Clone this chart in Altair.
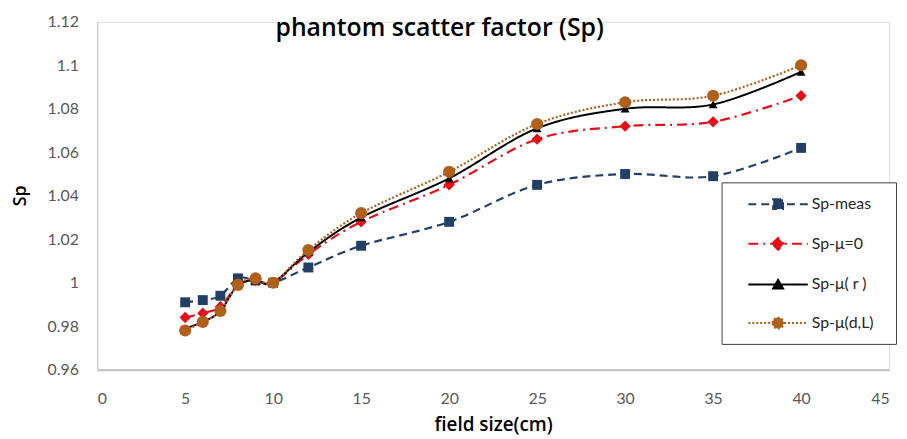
import altair as alt
import pandas as pd

# ---- data ----
field_size = [5, 6, 7, 8, 9, 10, 12, 15, 20, 25, 30, 35, 40]
sp_meas = [0.991, 0.992, 0.994, 1.002, 1.001, 1.000, 1.007, 1.017, 1.028, 1.045, 1.050, 1.049, 1.062]
sp_mu0 = [0.984, 0.986, 0.989, 0.999, 1.001, 1.000, 1.013, 1.028, 1.045, 1.066, 1.072, 1.074, 1.086]
sp_mur = [0.979, 0.982, 0.987, 0.999, 1.001, 1.000, 1.014, 1.030, 1.048, 1.071, 1.080, 1.082, 1.097]
sp_mudl = [0.978, 0.982, 0.987, 0.999, 1.002, 1.000, 1.015, 1.032, 1.051, 1.073, 1.083, 1.086, 1.100]

series_names = ["Sp-meas", "Sp-μ=0", "Sp-μ( r )", "Sp-μ(d,L)"]
series_values = [sp_meas, sp_mu0, sp_mur, sp_mudl]

x_ticks = [0, 5, 10, 15, 20, 25, 30, 35, 40, 45]
y_ticks = [0.96, 0.98, 1.0, 1.02, 1.04, 1.06, 1.08, 1.1, 1.12]

# ---- styles ----
colors = ["#243F66", "#E3101A", "#000000", "#B0601A"]
dashes = [[8, 5], [10, 5, 2, 5], [1, 0], [2, 2]]
shapes = ["square", "diamond", "triangle-up", "circle"]
sizes = [100, 130, 80, 150]
widths = [2.2, 2.2, 2.0, 2.2]
legend_paths = [
    "M0.5,0H6.5M3.0,-0.5H4.0V0.5H3.0Z",
    "M0.5,0H6.5M2.9,0L3.5,-0.6L4.1,0L3.5,0.6Z",
    "M0.5,0H6.5M3.5,-0.45L4.0,0.4H3.0Z",
    "M0.5,0H6.5M2.95,0A0.55,0.55,0,1,1,4.05,0A0.55,0.55,0,1,1,2.95,0Z",
]

rows = []
for name, vals in zip(series_names, series_values):
    for fs, v in zip(field_size, vals):
        rows.append({"field": fs, "sp": v, "series": name})
df = pd.DataFrame(rows)

FONT = "Lato"
TFONT = "Open Sans"

x_enc = alt.X(
    "field:Q",
    scale=alt.Scale(domain=[0, 45], nice=False),
    axis=alt.Axis(
        values=x_ticks, title="field size(cm)", grid=False, ticks=False, tickSize=0,
        labelPadding=21, labelFontSize=16, labelColor="#595959", labelFont=FONT,
        domainColor="#BFBFBF", domainWidth=2,
        titleFont=TFONT, titleFontSize=19, titleFontWeight=600, titleColor="#000000",
        titleY=55, titleBaseline="middle",
    ),
)
y_enc = alt.Y(
    "sp:Q",
    scale=alt.Scale(domain=[0.96, 1.12], nice=False, zero=False),
    axis=alt.Axis(
        values=y_ticks, format=".2~f", title="Sp", grid=False, ticks=False, tickSize=0,
        labelPadding=19, labelFontSize=16, labelColor="#595959", labelFont=FONT,
        domainColor="#CFCFCF", domainWidth=1.5,
        titleFont=TFONT, titleFontSize=18, titleFontWeight=600, titleColor="#000000",
        titleX=-77, titleY=175, titleAngle=-90, titleBaseline="middle", titleAlign="center",
    ),
)

base = alt.Chart(df)
layers = []
for i, name in enumerate(series_names):
    sub = base.transform_filter(alt.datum.series == name)
    layers.append(
        sub.mark_line(interpolate="cardinal", color=colors[i], strokeDash=dashes[i],
                      strokeWidth=widths[i]).encode(x=x_enc, y=y_enc)
    )
    layers.append(
        sub.mark_point(shape=shapes[i], size=sizes[i], filled=True, opacity=1,
                       color=colors[i]).encode(x=x_enc, y=y_enc)
    )

leg = dict(
    title="xx", titleOrient="right", titleColor="white", titleFontSize=8, titlePadding=3,
    orient="none", legendX=630, legendY=162,
    strokeColor="#404040", fillColor="white", padding=11, rowPadding=20,
    symbolSize=400, symbolStrokeWidth=2, labelOffset=58,
    labelFontSize=16, labelFont=FONT, labelColor="#262626",
)
legend_layer = base.transform_filter("datum.field < 0").mark_point(
    filled=True, opacity=1, strokeWidth=2
).encode(
    x=x_enc, y=y_enc,
    shape=alt.Shape("series:N", scale=alt.Scale(domain=series_names, range=legend_paths),
                    legend=alt.Legend(**leg)),
    fill=alt.Fill("series:N", scale=alt.Scale(domain=series_names, range=colors),
                  legend=alt.Legend(**leg)),
    stroke=alt.Stroke("series:N", scale=alt.Scale(domain=series_names, range=colors),
                      legend=alt.Legend(**leg)),
    strokeDash=alt.StrokeDash("series:N", scale=alt.Scale(domain=series_names, range=dashes),
                              legend=alt.Legend(**leg)),
)
layers.append(legend_layer)

chart = alt.layer(*layers).properties(
    width=799, height=351,
    title=alt.Title("phantom scatter factor (Sp)", font=TFONT, fontSize=25, fontWeight=600,
                    color="#000000", anchor="middle", frame="group", dx=-54, dy=47, offset=0,
                    baseline="alphabetic"),
    autosize=alt.AutoSizeParams(type="none"),
    padding={"left": 90, "top": 12, "right": 10, "bottom": 66},
).configure_view(stroke=None).configure(background="white")

chart.save("out.html", embed_options={"renderer": "svg", "actions": False})
